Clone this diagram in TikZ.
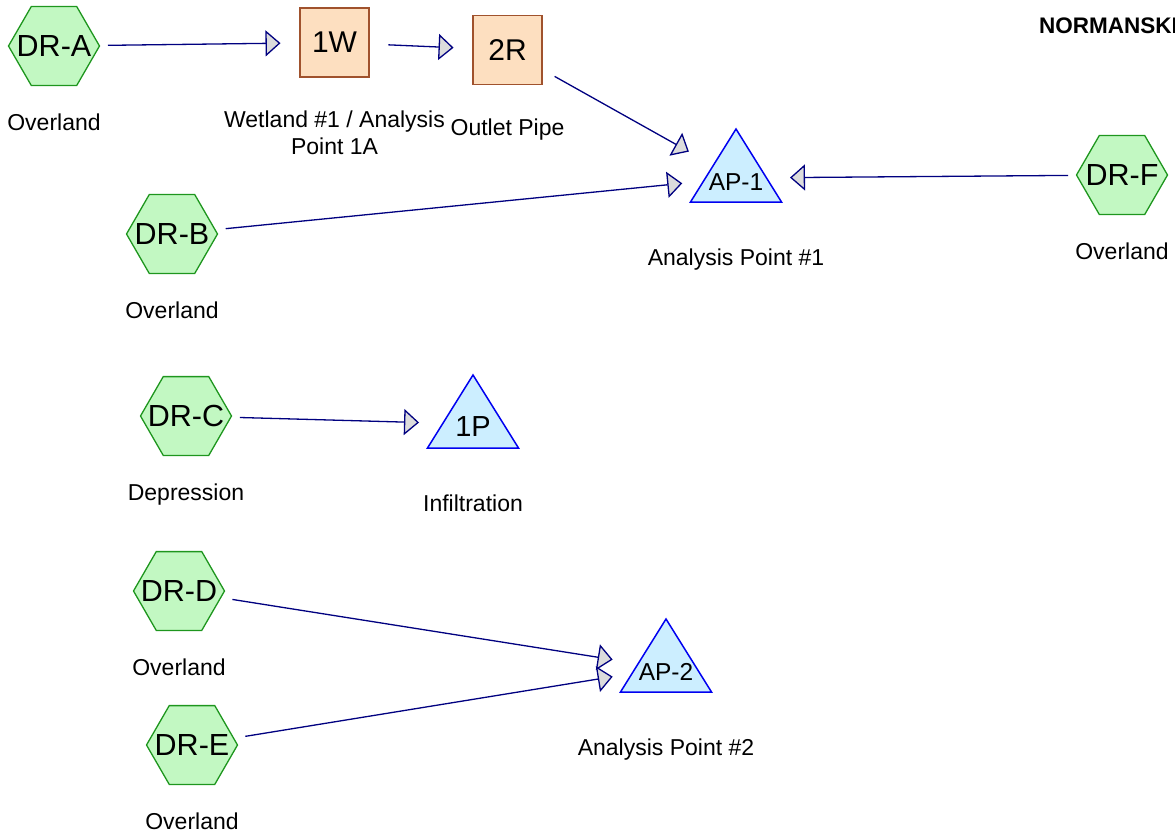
\documentclass[tikz,border=0pt]{standalone}
\usepackage{fontspec}
\setmainfont{Liberation Sans}
\usetikzlibrary{arrows.meta,positioning,shapes.geometric}
\definecolor{hexfill}{HTML}{C2F8C2}
\definecolor{hexline}{HTML}{1E961E}
\definecolor{pondfill}{HTML}{FDDFC0}
\definecolor{pondline}{HTML}{A0522D}
\definecolor{apfill}{HTML}{CCEEFF}
\definecolor{apline}{HTML}{0000F0}
\definecolor{flow}{HTML}{000080}
\definecolor{tipfill}{HTML}{DCDCDC}

\begin{document}
\begin{tikzpicture}[x=1pt,y=-1pt,
  sub/.style={regular polygon,regular polygon sides=6,minimum size=91pt,inner sep=0pt,
              draw=hexline,fill=hexfill,line width=1.3pt,font=\fontsize{30.5}{30.5}\selectfont,
              execute at begin node={\hbox to 0pt\bgroup\hss},
              execute at end node={\hss\egroup}},
  pond/.style={rectangle,minimum width=69pt,minimum height=69pt,inner sep=0pt,
               draw=pondline,fill=pondfill,line width=1.3pt,font=\fontsize{30}{30}\selectfont},
  ap/.style={rectangle,minimum width=96pt,minimum height=104pt,inner sep=0pt,
             text height=24pt,text depth=0pt,font=\fontsize{24.5}{24.5}\selectfont,
             path picture={\draw[apline,fill=apfill,line width=1.5pt]
               ([yshift=49pt]path picture bounding box.center) -- ++(45.5pt,-73pt)
               -- ++(-91pt,0pt) -- cycle;}},
  lbl/.style={inner sep=0pt,font=\fontsize{23}{27}\selectfont,align=center},
  a/.style={flow,line width=1.3pt,-{Triangle[length=15pt,width=26pt,fill=tipfill]},
            shorten <=54pt,shorten >=54pt},
  node distance=28pt]
\useasboundingbox (0,0) rectangle (1175,835);
% subcatchments
\node[sub] (dra) at (54,46) {DR-A};
\node[sub] (drb) at (172,234) {DR-B};
\node[sub] (drc) at (186,416) {DR-C};
\node[sub] (drd) at (179,591) {DR-D};
\node[sub] (dre) at (192,745) {DR-E};
\node[sub] (drf) at (1122,175) {DR-F};
% pond, reach
\node[pond] (w1) at (334.5,42.5) {1W};
\node[pond] (r2) at (507.5,50) {2R};
% links and infiltration pond
\node[ap] (ap1) at (736,178) {AP-1};
\node[ap,font=\fontsize{29}{29}\selectfont] (p1) at (473,424) {1P};
\node[ap] (ap2) at (666,668) {AP-2};
% captions
\node[lbl,below=of dra] (dra-l) {Overland};
\node[lbl,below=of drb] (drb-l) {Overland};
\node[lbl,below=of drc] (drc-l) {Depression};
\node[lbl,below=of drd] (drd-l) {Overland};
\node[lbl,below=of dre] (dre-l) {Overland};
\node[lbl,below=of drf] (drf-l) {Overland};
\node[lbl,below=33pt of w1] (w1-l) {Wetland \#1 / Analysis\\Point 1A};
\node[lbl,below=33pt of r2] (r2-l) {Outlet Pipe};
\node[lbl,below=18pt of ap1] (ap1-l) {Analysis Point \#1};
\node[lbl,below=18pt of p1] (p1-l) {Infiltration};
\node[lbl,below=18pt of ap2] (ap2-l) {Analysis Point \#2};
\node[font=\bfseries\fontsize{22.5}{22.5}\selectfont,anchor=base west,inner sep=0pt]
      (title) at (1039,33) {NORMANSKI};
% routing
\draw[a] (dra.center)--(w1.center); \draw[a] (w1.center)--(r2.center);
\draw[a] (r2.center)--(ap1.center); \draw[a] (drb.center)--(ap1.center);
\draw[a] (drf.center)--(ap1.center); \draw[a] (drc.center)--(p1.center);
\draw[a] (drd.center)--(ap2.center); \draw[a] (dre.center)--(ap2.center);
\end{tikzpicture}
\end{document}
